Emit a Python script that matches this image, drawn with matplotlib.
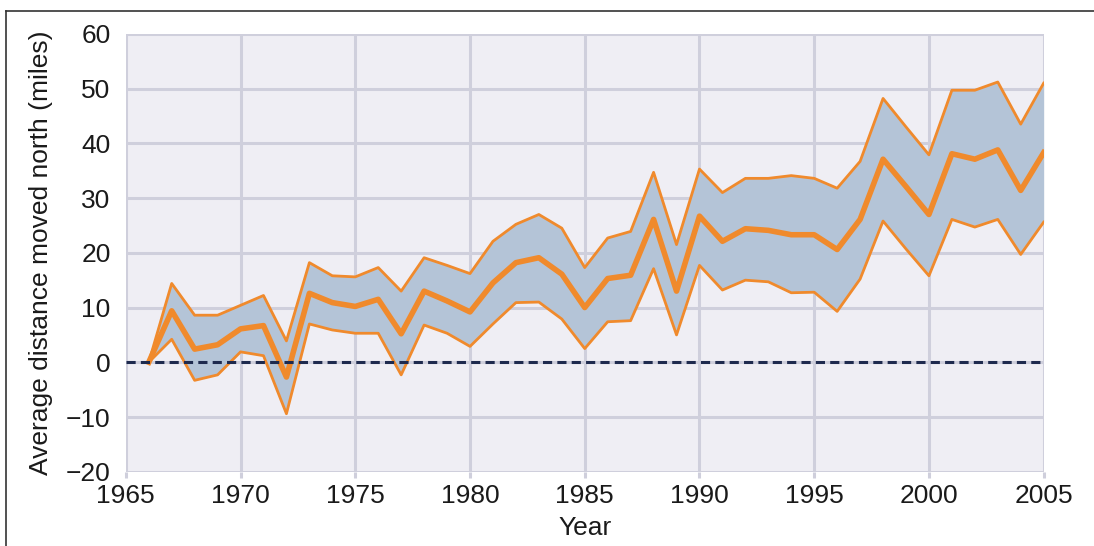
import matplotlib.pyplot as plt
from matplotlib.lines import Line2D

plt.rcParams['font.family'] = ['Liberation Sans', 'DejaVu Sans']

years = list(range(1966, 2006))
mean_north = [0, 9.4, 2.4, 3.2, 6.1, 6.7, -2.7, 12.6, 10.9, 10.2,
              11.5, 5.2, 13.0, 11.2, 9.2, 14.5, 18.2, 19.1, 16.1, 10.0,
              15.3, 15.9, 26.1, 13.0, 26.7, 22.1, 24.4, 24.1, 23.3, 23.3,
              20.6, 26.1, 37.1, 32.1, 27.0, 38.1, 37.1, 38.8, 31.4, 38.3]
upper_north = [0, 14.4, 8.6, 8.6, 10.4, 12.2, 3.9, 18.2, 15.8, 15.6,
               17.3, 13.0, 19.1, 17.7, 16.2, 22.1, 25.2, 27.0, 24.5, 17.3,
               22.7, 23.9, 34.7, 21.5, 35.3, 31.0, 33.6, 33.6, 34.1, 33.6,
               31.8, 36.7, 48.2, 43.0, 37.9, 49.7, 49.7, 51.2, 43.5, 51.0]
lower_north = [0, 4.2, -3.3, -2.3, 1.9, 1.2, -9.4, 7.0, 5.9, 5.3,
               5.3, -2.3, 6.8, 5.3, 2.9, 7.0, 10.9, 11.0, 7.9, 2.5,
               7.4, 7.6, 17.1, 5.0, 17.7, 13.2, 15.0, 14.7, 12.7, 12.8,
               9.3, 15.2, 25.8, 20.7, 15.8, 26.1, 24.7, 26.1, 19.7, 25.6]

x_ticks = list(range(1965, 2006, 5))
y_ticks = list(range(-20, 61, 10))

orange = '#f08a2c'
grid_col = '#cfcfdc'
text_col = '#1a1a1a'

fig = plt.figure(figsize=(10.94, 5.46), dpi=100)
ax = fig.add_axes([0.115, 0.136, 0.839, 0.802])
ax.set_facecolor('#efeef4')

ax.fill_between(years, lower_north, upper_north, color='#b4c4d7', lw=0, zorder=2)
ax.plot(years, upper_north, color=orange, lw=2, zorder=3)
ax.plot(years, lower_north, color=orange, lw=2, zorder=3)
ax.plot(years, mean_north, color=orange, lw=4, zorder=4)
ax.axhline(0, color='#1e2a4e', lw=2.2, ls=(0, (3, 1.7)), zorder=5)

ax.set_xlim(1965, 2005)
ax.set_ylim(-20, 60)
ax.set_xticks(x_ticks)
ax.set_yticks(y_ticks)
ax.set_yticklabels([str(v).replace('-', '\u2212') for v in y_ticks])
ax.grid(True, color=grid_col, lw=2.2, zorder=1)
for s in ax.spines.values():
    s.set_visible(False)
ax.tick_params(axis='x', length=4, width=2.2, color=grid_col, labelsize=19,
               labelcolor=text_col, pad=4.5)
ax.tick_params(axis='y', length=0, labelsize=19, labelcolor=text_col, pad=11)

ax.set_xlabel('Year', fontsize=19, color=text_col, labelpad=6)
ax.set_ylabel('Average distance moved north (miles)', fontsize=19,
              color=text_col, labelpad=9)

# frame around the figure (left and top only)
fig.add_artist(Line2D([0.0055, 0.0055], [0, 0.98], color='#333333', lw=1.2))
fig.add_artist(Line2D([0.0055, 1], [0.98, 0.98], color='#333333', lw=1.2))

fig.savefig('out.png', dpi=100)
